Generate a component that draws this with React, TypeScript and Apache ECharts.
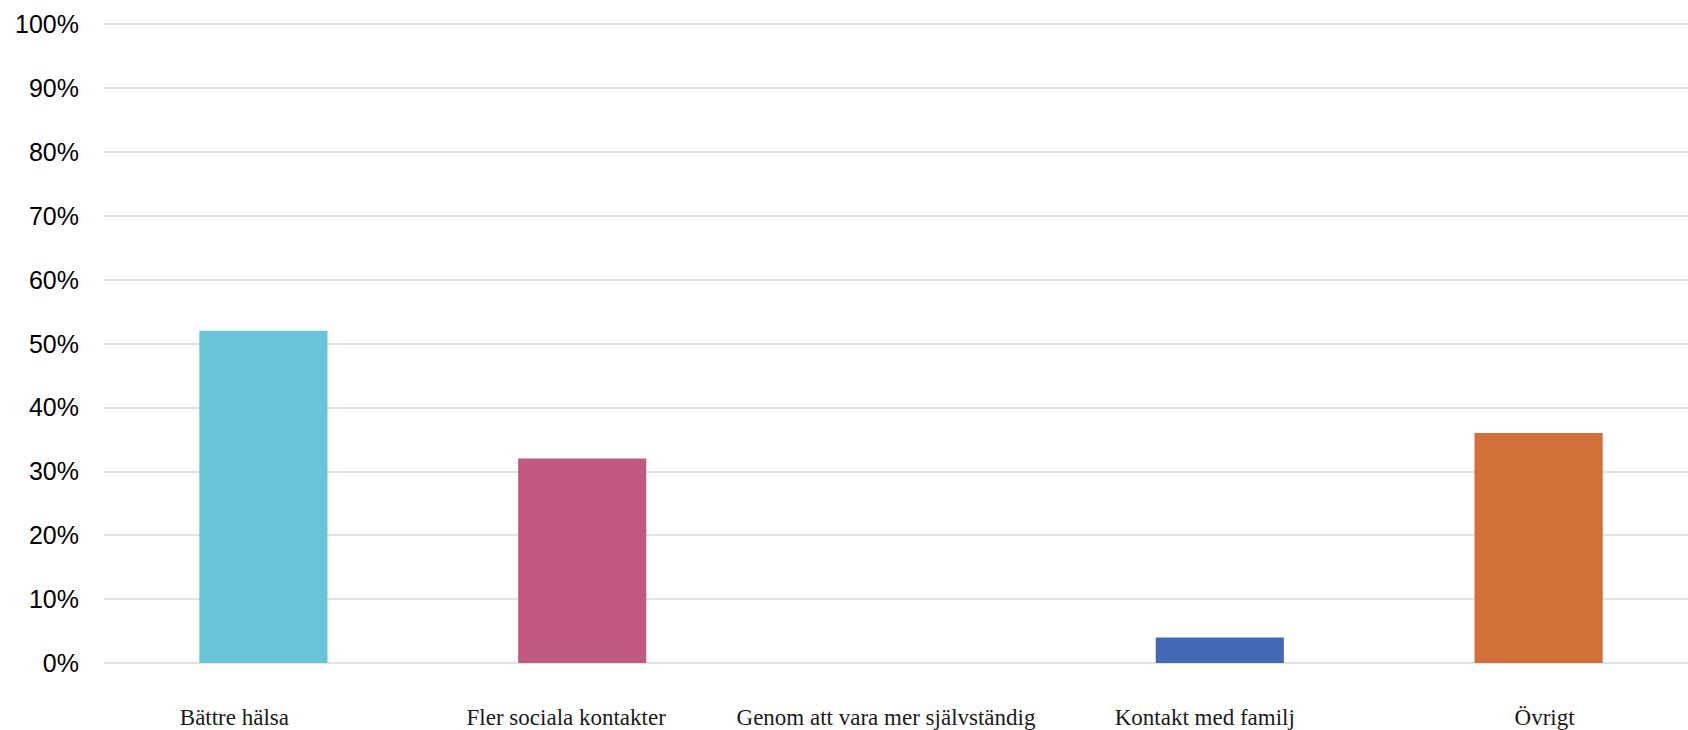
import React, { useEffect, useRef } from "react";
import * as echarts from "echarts";

const categories = [
  "Bättre hälsa",
  "Fler sociala kontakter",
  "Genom att vara mer självständig",
  "Kontakt med familj",
  "Övrigt",
];
const values = [52, 32, 0, 4, 36];
const barColors = ["#69C4D9", "#C25981", "#4A6FB5", "#4368B4", "#D2703A"];

// horizontal label nudges (style only), px
const labelShift = [-29, -16, -15, -15, 6];

export default function App() {
  const ref = useRef<HTMLDivElement>(null);
  useEffect(() => {
    document.body.style.margin = "0";
    document.body.style.overflow = "hidden";
    const chart = echarts.init(ref.current!, null, { renderer: "svg" });
    const rich: Record<string, any> = {};
    labelShift.forEach((s, i) => {
      rich["l" + i] = {
        fontFamily: "Liberation Serif",
        fontSize: 23,
        color: "#1a1a1a",
        padding: s < 0 ? [0, -2 * s, 0, 0] : [0, 0, 0, 2 * s],
      };
    });
    chart.setOption({
      animation: false,
      backgroundColor: "#ffffff",
      grid: { left: 104, right: 0, top: 24, bottom: 67, containLabel: false },
      xAxis: {
        type: "category",
        data: categories,
        axisLine: { show: false },
        axisTick: { show: false },
        axisLabel: {
          margin: 43,
          fontFamily: "Liberation Serif",
          fontSize: 23,
          color: "#1a1a1a",
          interval: 0,
          formatter: (v: string, i: number) => `{l${i}|${v}}`,
          rich,
        },
      },
      yAxis: {
        type: "value",
        min: 0,
        max: 100,
        interval: 10,
        axisLine: { show: false },
        axisTick: { show: false },
        splitLine: { lineStyle: { color: "#D9D9D9", width: 1.5 } },
        axisLabel: {
          formatter: "{value}%",
          margin: 25,
          fontFamily: "Liberation Sans",
          fontSize: 25,
          color: "#000000",
        },
      },
      series: [
        {
          type: "bar",
          data: values.map((v, i) => ({ value: v, itemStyle: { color: barColors[i] } })),
          barWidth: "40.2%",
        },
      ],
    });
    return () => chart.dispose();
  }, []);
  return <div ref={ref} style={{ width: 1698, height: 730 }} />;
}
